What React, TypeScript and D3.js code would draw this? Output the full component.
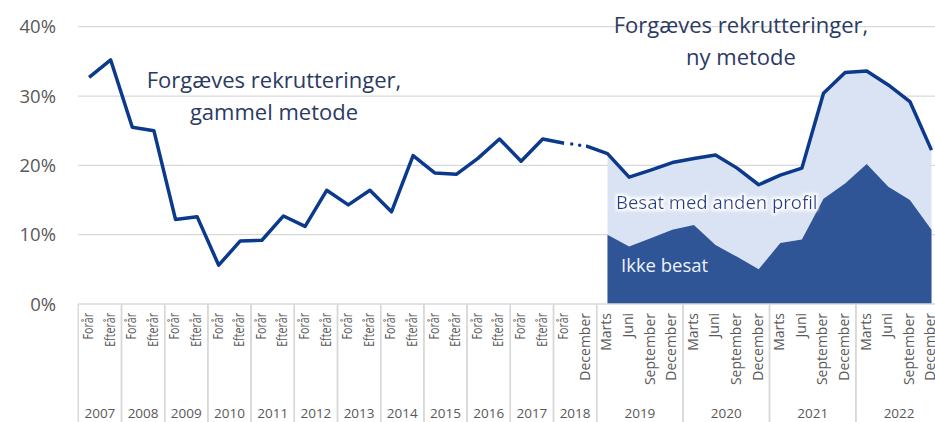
import * as React from 'react';
import * as d3 from 'd3';

const WIDTH = 935;
const HEIGHT = 422;

// x axis groups
const oldYears = ['2007', '2008', '2009', '2010', '2011', '2012', '2013', '2014', '2015', '2016', '2017'];
const halfYearLabels = ['Forår', 'Efterår'];
const transitionYear = '2018';
const transitionLabels = ['Forår', 'December'];
const newYears = ['2019', '2020', '2021', '2022'];
const quarterLabels = ['Marts', 'Juni', 'September', 'December'];

// per cent, old method: Forår 2007 .. Forår 2018
const oldMethod = [
  32.7, 35.2, 25.5, 25.0, 12.2, 12.6, 5.6, 9.1, 9.2, 12.7, 11.2, 16.4,
  14.3, 16.4, 13.3, 21.4, 18.9, 18.7, 21.0, 23.8, 20.6, 23.8, 23.2,
];
// per cent, new method: December 2018 .. December 2022
const newMethod = [
  22.8, 21.7, 18.3, 19.3, 20.4, 21.0, 21.5, 19.6, 17.2, 18.6, 19.6, 30.4,
  33.4, 33.6, 31.6, 29.2, 22.2,
];
// per cent, "Ikke besat": Marts 2019 .. December 2022
const notFilled = [
  10.0, 8.3, 9.5, 10.7, 11.4, 8.5, 6.8, 5.0, 8.8, 9.3, 15.2, 17.4, 20.2,
  16.9, 15.0, 10.7,
];

const yTicks = [0, 10, 20, 30, 40];

const LINE = '#0b3a8c';
const DARK = '#2f5597';
const LIGHT = '#dae3f3';
const GRID = '#d9d9d9';
const TEXT = '#2b3a63';
const AXIS_TEXT = '#595959';
const FONT = "'Open Sans', 'Noto Sans', sans-serif";

type Group = { year: string; labels: string[] };

const groups: Group[] = [
  ...oldYears.map(year => ({ year, labels: halfYearLabels })),
  { year: transitionYear, labels: transitionLabels },
  ...newYears.map(year => ({ year, labels: quarterLabels })),
];

const categories = groups.flatMap(g => g.labels.map((l, i) => `${g.year}-${i}-${l}`));

const x = d3
  .scaleBand<string>()
  .domain(categories)
  .range([78.3, 78.3 + categories.length * 21.6]);

const y = d3.scaleLinear().domain([0, 40]).range([304, 26.7]);

const cx = (i: number) => (x(categories[i]) as number) + x.bandwidth() / 2;

const newStart = oldMethod.length; // index of December 2018
const areaStart = newStart + 1; // Marts 2019

type Pt = [number, number];

const line = d3
  .line<Pt>()
  .x(d => cx(d[0]))
  .y(d => y(d[1]));

const area = d3
  .area<Pt>()
  .x(d => cx(d[0]))
  .y0(y(0))
  .y1(d => y(d[1]));

export default function App() {
  const oldPts: Pt[] = oldMethod.map((v, i) => [i, v]);
  const newPts: Pt[] = newMethod.map((v, i) => [newStart + i, v]);
  const totalPts: Pt[] = newPts.slice(1);
  const darkPts: Pt[] = notFilled.map((v, i) => [areaStart + i, v]);
  const bridge: Pt[] = [oldPts[oldPts.length - 1], newPts[0]];

  let offset = 0;
  const groupPos = groups.map(g => {
    const start = offset;
    offset += g.labels.length;
    return { ...g, start };
  });

  return (
    <svg
      width={WIDTH}
      height={HEIGHT}
      style={{ position: 'absolute', left: 0, top: 0, background: '#fff' }}
      fontFamily={FONT}
    >
      <defs>
        <filter id="glow" x="-10%" y="-30%" width="120%" height="160%">
          <feMorphology in="SourceAlpha" operator="dilate" radius="1.5" result="d" />
          <feGaussianBlur in="d" stdDeviation="1.5" result="b" />
          <feFlood floodColor="#ffffff" />
          <feComposite in2="b" operator="in" result="halo" />
          <feMerge>
            <feMergeNode in="halo" />
            <feMergeNode in="SourceGraphic" />
          </feMerge>
        </filter>
      </defs>

      {/* grid */}
      {yTicks.slice(1).map(t => (
        <line key={t} x1={78} x2={WIDTH} y1={y(t)} y2={y(t)} stroke={GRID} strokeWidth={1.3} />
      ))}
      {yTicks.map(t => (
        <text
          key={t}
          x={56}
          y={y(t)}
          dy="0.36em"
          textAnchor="end"
          fontSize={18.5}
          fill={AXIS_TEXT}
        >
          {t}%
        </text>
      ))}

      {/* areas */}
      <path d={area(totalPts) || ''} fill={LIGHT} />
      <path d={area(darkPts) || ''} fill={DARK} />

      {/* lines */}
      <path d={line(oldPts) || ''} fill="none" stroke={LINE} strokeWidth={3.5} strokeLinejoin="round" />
      <path d={line(newPts) || ''} fill="none" stroke={LINE} strokeWidth={3.5} strokeLinejoin="round" />
      <path d={line(bridge) || ''} fill="none" stroke="#fff" strokeWidth={6} />
      <path
        d={line(bridge) || ''}
        fill="none"
        stroke={LINE}
        strokeWidth={3.5}
        strokeLinecap="round"
        strokeDasharray="0 8"
        strokeDashoffset={-7.5}
      />

      {/* x axis table */}
      <line x1={78} x2={WIDTH} y1={304} y2={304} stroke={GRID} strokeWidth={1.5} />
      {groupPos.map(g => {
        const x0 = x(categories[g.start]) as number;
        const x1 = x0 + g.labels.length * x.bandwidth();
        return (
          <g key={g.year}>
            <line x1={x0} x2={x0} y1={304} y2={HEIGHT} stroke={GRID} strokeWidth={1.5} />
            <line x1={x1} x2={x1} y1={304} y2={HEIGHT} stroke={GRID} strokeWidth={1.5} />
            <text
              x={(x0 + x1) / 2}
              y={413}
              dy="0.36em"
              textAnchor="middle"
              fontSize={13.5}
              fill={AXIS_TEXT}
            >
              {g.year}
            </text>
            {g.labels.map((l, i) => {
              const squeeze = halfYearLabels.includes(l) ? 0.76 : 1;
              return (
                <text
                  key={i}
                  transform={`translate(${cx(g.start + i) - 1},313) rotate(-90) scale(${squeeze},1)`}
                  dy="0.35em"
                  textAnchor="end"
                  fontSize={14}
                  fill={AXIS_TEXT}
                >
                  {l}
                </text>
              );
            })}
          </g>
        );
      })}

      {/* annotations */}
      <text x={274} y={80} dy="0.36em" textAnchor="middle" fontSize={22} fill={TEXT}>
        Forgæves rekrutteringer,
      </text>
      <text x={274} y={112} dy="0.36em" textAnchor="middle" fontSize={22} fill={TEXT}>
        gammel metode
      </text>
      <text x={741} y={25} dy="0.36em" textAnchor="middle" fontSize={22} fill={TEXT}>
        Forgæves rekrutteringer,
      </text>
      <text x={741} y={57} dy="0.36em" textAnchor="middle" fontSize={22} fill={TEXT}>
        ny metode
      </text>
      <text
        x={616}
        y={202}
        dy="0.36em"
        fontSize={18.5}
        fontWeight={500}
        fill="#1f3f8f"
        filter="url(#glow)"
      >
        Besat med anden profil
      </text>
      <text x={621} y={265} dy="0.36em" fontSize={18.5} fontWeight={500} fill="#eef2fa">
        Ikke besat
      </text>
    </svg>
  );
}
